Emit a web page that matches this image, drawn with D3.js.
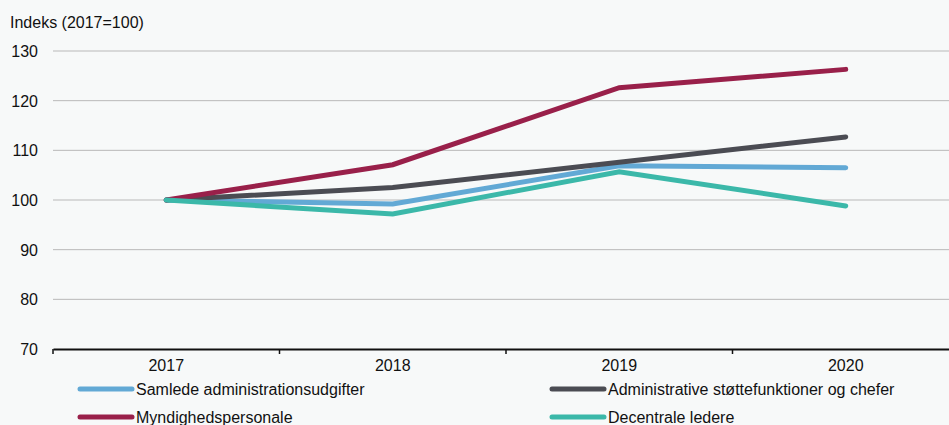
<!DOCTYPE html>
<html>
<head>
<meta charset="utf-8">
<script src="https://cdn.jsdelivr.net/npm/d3@7"></script>
<style>
  body { margin: 0; background: #f7f9f9; }
  svg { display: block; font-family: "Liberation Sans", Arial, sans-serif; }
</style>
</head>
<body>
<div id="chart"></div>
<script>
  // data
  const years = ['2017', '2018', '2019', '2020'];
  const samlede = [100, 99.2, 106.9, 106.5];
  const administrative = [100, 102.5, 107.6, 112.7];
  const myndighed = [100, 107.1, 122.6, 126.3];
  const decentrale = [100, 97.2, 105.7, 98.8];
  const yTicks = [70, 80, 90, 100, 110, 120, 130];

  const series = [
    {name: 'Samlede administrationsudgifter', values: samlede, color: '#62a9d5'},
    {name: 'Administrative støttefunktioner og chefer', values: administrative, color: '#4b4c53'},
    {name: 'Myndighedspersonale', values: myndighed, color: '#99204a'},
    {name: 'Decentrale ledere', values: decentrale, color: '#3bb8a9'}
  ];

  const width = 949, height = 425;
  const fs = 16;
  const svg = d3.select('#chart').append('svg')
    .attr('width', width).attr('height', height);

  const x = d3.scaleBand().domain(years).range([53, 959]);
  const y = d3.scaleLinear().domain([70, 130]).range([349, 51]);

  // title
  svg.append('text').attr('x', 10).attr('y', 28)
    .attr('font-size', fs).attr('fill', '#111').text('Indeks (2017=100)');

  // grid
  svg.append('g').selectAll('line').data(yTicks.slice(1)).join('line')
    .attr('x1', 53).attr('x2', width)
    .attr('y1', d => y(d)).attr('y2', d => y(d))
    .attr('stroke', '#b9b9b9').attr('stroke-width', 1);

  // y labels
  svg.append('g').selectAll('text').data(yTicks).join('text')
    .attr('x', 38).attr('y', d => y(d) + 6)
    .attr('text-anchor', 'end').attr('font-size', fs).attr('fill', '#111')
    .text(d => d);

  // x axis
  const xAxis = svg.append('g').attr('transform', `translate(0,${y(70)})`)
    .call(d3.axisBottom(x).tickSizeOuter(0).tickSize(0).tickPadding(11));
  xAxis.select('.domain').attr('stroke', '#111').attr('stroke-width', 2);
  xAxis.selectAll('text').attr('font-size', fs).attr('fill', '#111')
    .attr('font-family', '"Liberation Sans", Arial, sans-serif');
  // boundary ticks between categories
  const bounds = years.map(d => x(d)).concat([x(years[3]) + x.bandwidth()]);
  xAxis.selectAll('.bound').data(bounds).join('line').attr('class', 'bound')
    .attr('x1', d => d).attr('x2', d => d)
    .attr('y1', 0).attr('y2', 5)
    .attr('stroke', '#111').attr('stroke-width', 1.5);

  // lines
  const line = d3.line()
    .x((d, i) => x(years[i]) + x.bandwidth() / 2)
    .y(d => y(d));

  svg.append('g').selectAll('path').data(series).join('path')
    .attr('d', d => line(d.values))
    .attr('fill', 'none')
    .attr('stroke', d => d.color)
    .attr('stroke-width', 5)
    .attr('stroke-linecap', 'round')
    .attr('stroke-linejoin', 'miter');

  // legend
  const legendPos = [[78, 389], [550, 389], [78, 417], [550, 417]];
  const legend = svg.append('g').selectAll('g').data(series).join('g')
    .attr('transform', (d, i) => `translate(${legendPos[i][0]},${legendPos[i][1]})`);
  legend.append('line')
    .attr('x1', 2).attr('x2', 54).attr('y1', 0).attr('y2', 0)
    .attr('stroke', d => d.color).attr('stroke-width', 5)
    .attr('stroke-linecap', 'round');
  legend.append('text')
    .attr('x', 58).attr('y', 5.5)
    .attr('font-size', fs).attr('fill', '#111')
    .text(d => d.name);
</script>
</body>
</html>
